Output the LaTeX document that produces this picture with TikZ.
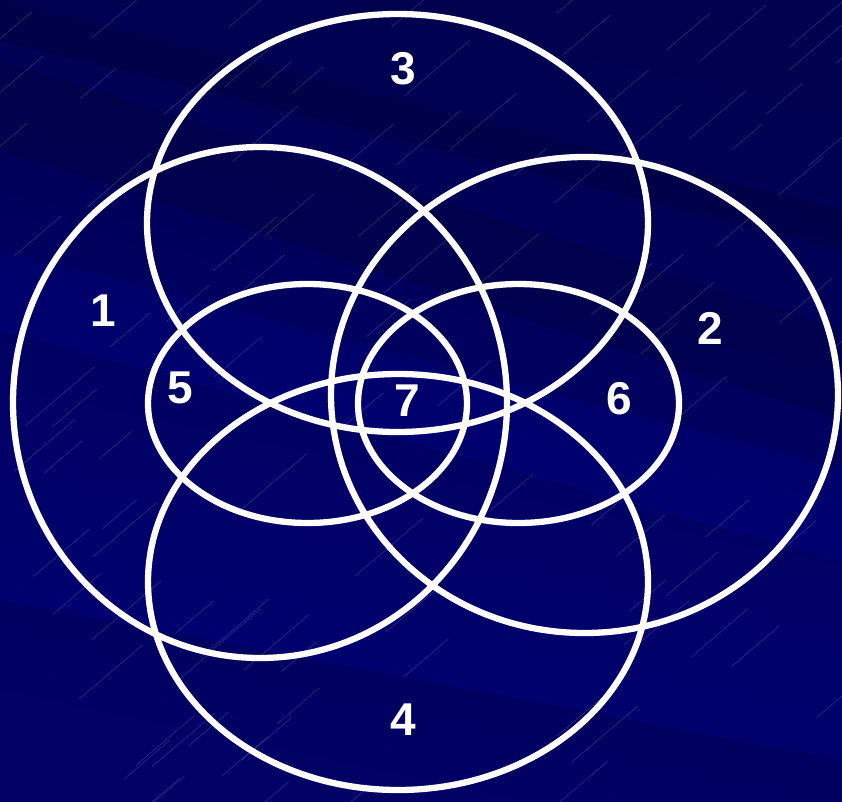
\documentclass[tikz,border=0pt]{standalone}
\usepackage{fontspec}
\setmainfont{Liberation Sans}
\definecolor{bgA}{HTML}{00004E}
\definecolor{bgB}{HTML}{00008E}
\definecolor{bgC}{HTML}{000074}
\definecolor{streak}{HTML}{9090D8}
\tikzset{
  setline/.style={draw=white, line width=6.3pt},
  numlabel/.style={text=white, font=\fontsize{46}{46}\selectfont\bfseries, inner sep=0pt, anchor=center},
  band/.style={fill=black, fill opacity=0.12},
  lightband/.style={fill=blue, fill opacity=0.08},
  streakline/.style={draw=streak, line width=0.5pt, draw opacity=0.35}
}
\begin{document}
\begin{tikzpicture}[x=1pt,y=-1pt]
\useasboundingbox (0,0) rectangle (842,801);
% background
\shade[top color=bgA, middle color=bgB, bottom color=bgC, shading angle=-12] (0,0) rectangle (842,801);
\begin{scope}
\clip (0,0) rectangle (842,801);
\fill[band] (0,60) -- (842,330) -- (842,420) -- (0,150) -- cycle;
\fill[band] (0,0) -- (842,210) -- (842,250) -- (0,40) -- cycle;
\fill[band] (0,600) -- (842,760) -- (842,801) -- (0,801) -- cycle;
\fill[lightband] (0,250) -- (842,470) -- (842,560) -- (0,330) -- cycle;
\pgfmathsetseed{7}
\foreach \i in {1,...,110}{
  \pgfmathsetmacro{\sx}{rnd*900-20}
  \pgfmathsetmacro{\sy}{rnd*840}
  \pgfmathsetmacro{\sl}{30+rnd*40}
  \draw[streakline] (\sx,\sy) -- ++(\sl,-0.85*\sl);
}
\end{scope}
% sets
\draw[setline] (260,402.5) ellipse [x radius=247, y radius=255.5];
\draw[setline] (584.5,395) ellipse [x radius=253.5, y radius=238];
\draw[setline] (397.5,223) ellipse [x radius=250.5, y radius=209];
\draw[setline] (398,582) ellipse [x radius=250, y radius=208];
\draw[setline] (307.5,403.5) ellipse [x radius=159.5, y radius=119.5];
\draw[setline] (518.5,403.5) ellipse [x radius=160.5, y radius=119.5];
% labels
\node[numlabel] (l1) at (103,311) {1};
\node[numlabel] (l2) at (710,328) {2};
\node[numlabel] (l3) at (403,69) {3};
\node[numlabel] (l4) at (403,720) {4};
\node[numlabel] (l5) at (180,388) {5};
\node[numlabel] (l6) at (619,399) {6};
\node[numlabel] (l7) at (407,401) {7};
\end{tikzpicture}
\end{document}
